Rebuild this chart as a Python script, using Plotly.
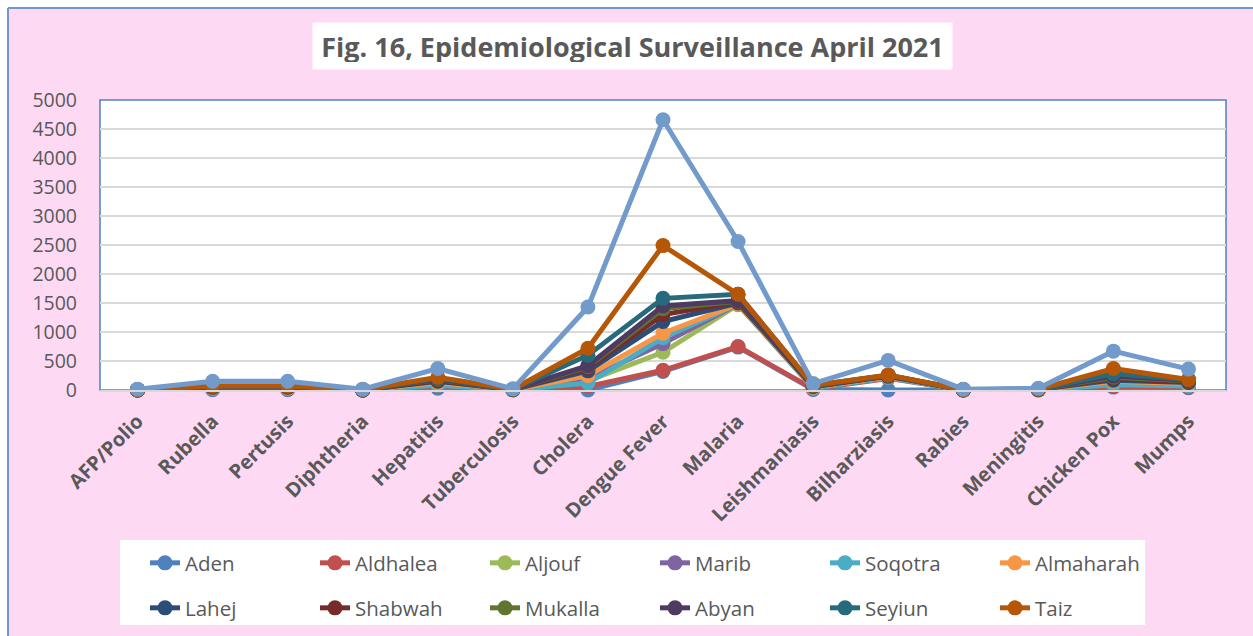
import plotly.graph_objects as go

categories = ["AFP/Polio", "Rubella", "Pertusis", "Diphtheria", "Hepatitis", "Tuberculosis",
              "Cholera", "Dengue Fever", "Malaria", "Leishmaniasis", "Bilharziasis", "Rabies",
              "Meningitis", "Chicken Pox", "Mumps"]

aden      = [0, 5, 5, 0, 30, 2, 0, 320, 740, 10, 0, 0, 2, 50, 40]
aldhalea  = [1, 20, 20, 0, 70, 3, 60, 340, 750, 20, 200, 1, 3, 60, 50]
aljouf    = [1, 30, 30, 1, 100, 3, 160, 650, 1470, 40, 220, 1, 5, 100, 80]
marib     = [1, 30, 30, 1, 120, 5, 200, 800, 1480, 50, 230, 2, 8, 180, 120]
soqotra   = [1, 25, 25, 1, 80, 3, 120, 900, 1480, 30, 210, 1, 4, 90, 70]
almaharah = [1, 40, 40, 1, 130, 5, 250, 980, 1480, 50, 230, 2, 8, 150, 110]
lahej     = [2, 50, 50, 2, 150, 8, 330, 1180, 1500, 60, 240, 3, 10, 170, 130]
shabwah   = [2, 50, 50, 2, 160, 8, 380, 1300, 1520, 60, 240, 3, 10, 200, 140]
mukalla   = [3, 60, 60, 3, 180, 10, 400, 1400, 1530, 70, 250, 3, 10, 220, 160]
abyan     = [3, 60, 60, 3, 190, 10, 420, 1450, 1540, 70, 250, 4, 12, 240, 170]
seyiun    = [3, 65, 65, 3, 200, 10, 600, 1580, 1650, 80, 255, 4, 12, 280, 180]
taiz      = [5, 70, 70, 5, 220, 12, 720, 2490, 1650, 80, 260, 5, 15, 370, 180]
unlabeled = [15, 150, 150, 15, 370, 20, 1430, 4660, 2560, 110, 510, 15, 30, 670, 360]

y_ticks = [0, 500, 1000, 1500, 2000, 2500, 3000, 3500, 4000, 4500, 5000]

series = [
    ("Aden", aden, "#4F81BD", "legend"),
    ("Aldhalea", aldhalea, "#C0504D", "legend"),
    ("Aljouf", aljouf, "#9BBB59", "legend"),
    ("Marib", marib, "#8064A2", "legend"),
    ("Soqotra", soqotra, "#4BACC6", "legend"),
    ("Almaharah", almaharah, "#F79646", "legend"),
    ("Lahej", lahej, "#2C4D75", "legend2"),
    ("Shabwah", shabwah, "#772C2A", "legend2"),
    ("Mukalla", mukalla, "#5F7530", "legend2"),
    ("Abyan", abyan, "#4D3B62", "legend2"),
    ("Seyiun", seyiun, "#276A7C", "legend2"),
    ("Taiz", taiz, "#B65708", "legend2"),
]

FONT = "Open Sans"
GRAY = "#595959"

fig = go.Figure()
for name, vals, color, lg in series:
    fig.add_trace(go.Scatter(
        x=categories, y=vals, name=name, mode="lines+markers",
        line=dict(color=color, width=5),
        marker=dict(color=color, size=15),
        cliponaxis=False, legend=lg,
    ))
fig.add_trace(go.Scatter(
    x=categories, y=unlabeled, name="", mode="lines+markers",
    line=dict(color="#729ACA", width=5),
    marker=dict(color="#729ACA", size=15),
    cliponaxis=False, showlegend=False,
))

W, H = 1253, 636
L, R, T, B = 100, 27, 100, 246
pw, ph = W - L - R, H - T - B

def px(xp):
    return (xp - L) / pw

def py(yp):
    return (H - B - yp) / ph

shapes = [
    dict(type="rect", xref="paper", yref="paper", x0=px(-5), x1=px(8), y0=py(H + 5), y1=py(-5),
         fillcolor="white", line=dict(width=0), layer="below"),
    dict(type="rect", xref="paper", yref="paper", x0=px(-5), x1=px(W + 5), y0=py(8), y1=py(-5),
         fillcolor="white", line=dict(width=0), layer="below"),
    dict(type="line", xref="paper", yref="paper", x0=px(8), x1=px(8), y0=py(8), y1=py(H + 5),
         line=dict(color="#6F97CC", width=2)),
    dict(type="line", xref="paper", yref="paper", x0=px(8), x1=px(W + 5), y0=py(8), y1=py(8),
         line=dict(color="#6F97CC", width=2)),
    dict(type="rect", xref="paper", yref="paper", x0=0, x1=1, y0=0, y1=1,
         line=dict(color="#4F81BD", width=1.5), fillcolor="rgba(0,0,0,0)", layer="below"),
    dict(type="rect", xref="paper", yref="paper", x0=px(120), x1=px(1145), y0=py(625), y1=py(540),
         fillcolor="white", line=dict(width=0), layer="below"),
]

fig.update_layout(
    width=W, height=H,
    margin=dict(l=L, r=R, t=T, b=B, autoexpand=False),
    paper_bgcolor="#FDD9F4",
    plot_bgcolor="white",
    font=dict(family=FONT, color=GRAY),
    shapes=shapes,
    annotations=[dict(
        text="<b>Fig. 16, Epidemiological Surveillance April 2021</b>",
        xref="paper", yref="paper", x=px(632), y=py(46), xanchor="center", yanchor="middle",
        showarrow=False, font=dict(family=FONT, size=27, color=GRAY),
        bgcolor="white", width=625, height=32, borderpad=7,
    )],
    xaxis=dict(
        range=[-0.5, len(categories) - 0.5],
        showgrid=False, showline=True, linecolor="#D9D9D9", linewidth=1.5,
        tickangle=-45, tickfont=dict(family=FONT, size=20, color=GRAY, weight="bold"),
        ticks="", zeroline=False, automargin=False, ticklabelstandoff=10,
    ),
    yaxis=dict(
        range=[0, 5000], tickvals=y_ticks, showgrid=True, gridcolor="#D9D9D9", gridwidth=1.5,
        zeroline=False, showline=False, ticks="", ticklabelstandoff=22, automargin=False,
        tickfont=dict(family=FONT, size=19.5, color=GRAY),
    ),
    legend=dict(
        orientation="h", x=px(145), y=py(543), xanchor="left", yanchor="top",
        entrywidth=125, bgcolor="rgba(0,0,0,0)", font=dict(family=FONT, size=20.5, color=GRAY),
        traceorder="normal",
    ),
    legend2=dict(
        orientation="h", x=px(145), y=py(588), xanchor="left", yanchor="top",
        entrywidth=125, bgcolor="rgba(0,0,0,0)", font=dict(family=FONT, size=20.5, color=GRAY),
        traceorder="normal",
    ),
)

fig.write_html("out.html", config={"displayModeBar": False},
               post_script="document.body.style.margin='0';")
